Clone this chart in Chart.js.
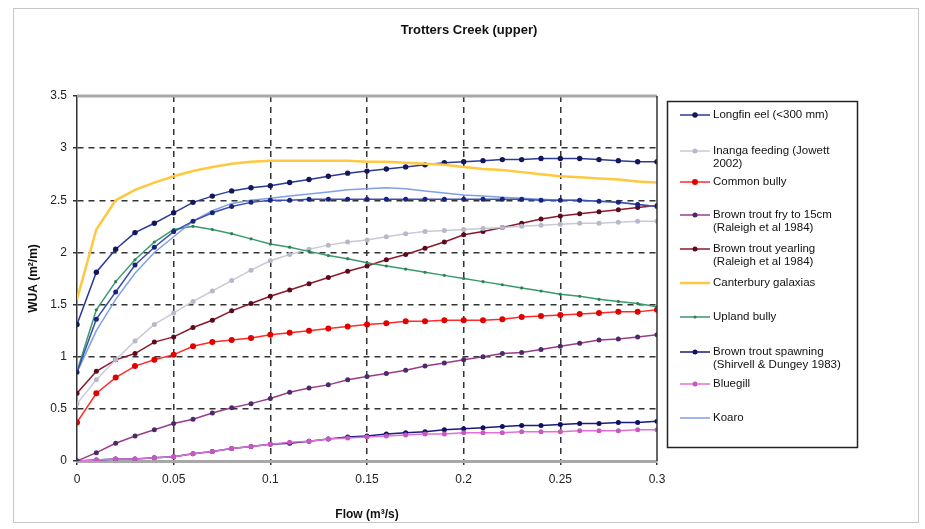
<!DOCTYPE html>
<html>
<head>
<meta charset="utf-8">
<script src="https://cdn.jsdelivr.net/npm/chart.js@4.4.0/dist/chart.umd.min.js"></script>
<style>
html, body { margin: 0; padding: 0; background: #fff; }
#wrap { width: 925px; height: 529px; position: relative; }
</style>
</head>
<body>
<div id="wrap"><canvas id="wua" width="925" height="529"></canvas></div>
<script>
// flow values (m3/s)
var flows = [0, 0.01, 0.02, 0.03, 0.04, 0.05, 0.06, 0.07, 0.08, 0.09, 0.1,
    0.11, 0.12, 0.13, 0.14, 0.15, 0.16, 0.17, 0.18, 0.19, 0.2,
    0.21, 0.22, 0.23, 0.24, 0.25, 0.26, 0.27, 0.28, 0.29, 0.3];

var xTickLabels = ['0', '0.05', '0.1', '0.15', '0.2', '0.25', '0.3'];
var yTickLabels = ['0', '0.5', '1', '1.5', '2', '2.5', '3', '3.5'];

// WUA per species
var longfinEel = [1.31, 1.81, 2.03, 2.19, 2.28, 2.38, 2.48, 2.54, 2.59, 2.62, 2.64,
    2.67, 2.70, 2.73, 2.76, 2.78, 2.80, 2.82, 2.84, 2.86, 2.87,
    2.88, 2.89, 2.89, 2.90, 2.90, 2.90, 2.89, 2.88, 2.87, 2.87];
var inangaFeeding = [0.55, 0.78, 0.97, 1.15, 1.31, 1.42, 1.53, 1.63, 1.73, 1.83, 1.92,
    1.98, 2.03, 2.07, 2.10, 2.12, 2.15, 2.18, 2.20, 2.21, 2.22,
    2.23, 2.24, 2.25, 2.26, 2.27, 2.28, 2.28, 2.29, 2.30, 2.30];
var commonBully = [0.37, 0.65, 0.80, 0.91, 0.97, 1.02, 1.10, 1.14, 1.16, 1.18, 1.21,
    1.23, 1.25, 1.27, 1.29, 1.31, 1.32, 1.34, 1.34, 1.35, 1.35,
    1.35, 1.36, 1.38, 1.39, 1.40, 1.41, 1.42, 1.43, 1.43, 1.45];
var troutFry = [0, 0.08, 0.17, 0.24, 0.30, 0.36, 0.40, 0.46, 0.51, 0.55, 0.60,
    0.66, 0.70, 0.73, 0.78, 0.81, 0.84, 0.87, 0.91, 0.94, 0.97,
    1.00, 1.03, 1.04, 1.07, 1.10, 1.13, 1.16, 1.17, 1.19, 1.21];
var troutYearling = [0.65, 0.86, 0.97, 1.03, 1.14, 1.19, 1.28, 1.35, 1.44, 1.51, 1.58,
    1.64, 1.70, 1.76, 1.82, 1.87, 1.93, 1.98, 2.04, 2.10, 2.17,
    2.20, 2.24, 2.28, 2.32, 2.35, 2.37, 2.39, 2.41, 2.43, 2.45];
var cantGalaxias = [1.55, 2.22, 2.50, 2.60, 2.67, 2.73, 2.78, 2.82, 2.85, 2.87, 2.88,
    2.88, 2.88, 2.88, 2.88, 2.87, 2.87, 2.86, 2.85, 2.84, 2.82,
    2.80, 2.79, 2.77, 2.75, 2.73, 2.72, 2.71, 2.70, 2.68, 2.67];
var uplandBully = [0.86, 1.45, 1.72, 1.93, 2.10, 2.22, 2.25, 2.22, 2.18, 2.13, 2.08,
    2.05, 2.01, 1.97, 1.94, 1.90, 1.87, 1.84, 1.81, 1.78, 1.75,
    1.72, 1.69, 1.66, 1.63, 1.60, 1.58, 1.55, 1.53, 1.51, 1.48];
var troutSpawning = [0, 0.01, 0.02, 0.02, 0.03, 0.04, 0.07, 0.09, 0.12, 0.14, 0.16,
    0.17, 0.19, 0.21, 0.23, 0.24, 0.26, 0.27, 0.28, 0.30, 0.31,
    0.32, 0.33, 0.34, 0.34, 0.35, 0.36, 0.36, 0.37, 0.37, 0.38];
var bluegill = [0, 0.01, 0.02, 0.02, 0.03, 0.04, 0.07, 0.09, 0.12, 0.14, 0.16,
    0.18, 0.19, 0.21, 0.22, 0.23, 0.24, 0.25, 0.26, 0.26, 0.27,
    0.27, 0.27, 0.28, 0.28, 0.28, 0.29, 0.29, 0.29, 0.30, 0.30];
var koaro = [0.85, 1.25, 1.55, 1.80, 2.00, 2.15, 2.30, 2.40, 2.47, 2.50, 2.52,
    2.54, 2.56, 2.58, 2.60, 2.61, 2.62, 2.61, 2.59, 2.57, 2.55,
    2.54, 2.53, 2.52, 2.51, 2.50, 2.50, 2.49, 2.48, 2.46, 2.44];
// unlabelled navy curve in the original (not in its legend)
var extraCurve = [0.85, 1.36, 1.62, 1.88, 2.05, 2.20, 2.30, 2.38, 2.44, 2.48, 2.50,
    2.50, 2.51, 2.51, 2.51, 2.51, 2.51, 2.51, 2.51, 2.51, 2.51,
    2.51, 2.51, 2.51, 2.50, 2.50, 2.50, 2.49, 2.48, 2.46, 2.44];

var FONT = '"Liberation Sans", Arial, sans-serif';

function pts(vals) {
    return vals.map(function(v, i) { return { x: flows[i], y: v }; });
}

function series(label, vals, line, marker, radius, width, legendY) {
    return {
        label: label,
        data: pts(vals),
        borderColor: line,
        backgroundColor: marker,
        pointBorderColor: marker,
        pointBackgroundColor: marker,
        pointRadius: radius,
        pointBorderWidth: 0,
        borderWidth: width,
        tension: 0,
        legendY: legendY
    };
}

var datasets = [
    series('Canterbury galaxias', cantGalaxias, '#ffc840', '#ffc840', 0, 2.5, 283),
    series('', extraCurve, '#3a4fb0', '#1a237a', 2.5, 1.5, null),
    series('Koaro', koaro, '#7f9fe6', '#7f9fe6', 0, 1.5, 418),
    series('Upland bully', uplandBully, '#3a9a6a', '#2f7f56', 1.6, 1.5, 317),
    series('Inanga feeding (Jowett\n2002)', inangaFeeding, '#c9c9d8', '#b8b8cc', 2.5, 1.5, 151),
    series('Brown trout yearling\n(Raleigh et al 1984)', troutYearling, '#8a1a2a', '#5a0a1a', 2.5, 1.5, 249),
    series('Common bully', commonBully, '#ff2a2a', '#e00000', 3, 1.5, 182),
    series('Brown trout fry to 15cm\n(Raleigh et al 1984)', troutFry, '#9a3c8a', '#4a2a6a', 2.5, 1.5, 215),
    series('Bluegill', bluegill, '#e070d8', '#c858c0', 2.5, 1.5, 384),
    series('Brown trout spawning\n(Shirvell & Dungey 1983)', troutSpawning, '#1a1a80', '#101060', 2.5, 1.5, 352),
    series('Longfin eel (<300 mm)', longfinEel, '#2a3a9a', '#15155a', 2.7, 1.5, 115)
];

var legendOrder = [10, 4, 6, 7, 5, 0, 3, 9, 8, 2];

var frame = {
    id: 'frame',
    beforeDraw: function(chart) {
        var ctx = chart.ctx;
        ctx.save();
        ctx.fillStyle = '#fff';
        ctx.fillRect(0, 0, chart.width, chart.height);
        ctx.strokeStyle = '#c8c8c8';
        ctx.lineWidth = 1;
        ctx.strokeRect(13.5, 8.5, 905, 514);
        ctx.fillStyle = '#111';
        ctx.font = 'bold 13px ' + FONT;
        ctx.textAlign = 'center';
        ctx.textBaseline = 'middle';
        ctx.fillText('Trotters Creek (upper)', 469, 30);
        ctx.restore();
    },
    afterDatasetsDraw: function(chart) {
        var a = chart.chartArea, ctx = chart.ctx;
        ctx.save();
        ctx.strokeStyle = '#a8a8a8';
        ctx.lineWidth = 3;
        ctx.beginPath();
        ctx.moveTo(a.left, a.top);
        ctx.lineTo(a.right, a.top);
        ctx.stroke();
        ctx.strokeStyle = '#333';
        ctx.lineWidth = 1.5;
        ctx.beginPath();
        ctx.moveTo(a.right, a.top);
        ctx.lineTo(a.right, a.bottom);
        ctx.stroke();
        ctx.restore();
    },
    afterDraw: function(chart) {
        var ctx = chart.ctx;
        ctx.save();
        ctx.strokeStyle = '#222';
        ctx.lineWidth = 1.5;
        ctx.strokeRect(667.5, 101.5, 190, 346);
        ctx.font = '11.5px ' + FONT;
        ctx.textBaseline = 'middle';
        legendOrder.forEach(function(idx) {
            var ds = chart.data.datasets[idx];
            var y = ds.legendY;
            ctx.strokeStyle = ds.borderColor;
            ctx.lineWidth = ds.borderWidth;
            ctx.beginPath();
            ctx.moveTo(680, y);
            ctx.lineTo(710, y);
            ctx.stroke();
            if (ds.pointRadius > 0) {
                ctx.fillStyle = ds.pointBackgroundColor;
                ctx.beginPath();
                ctx.arc(695, y, ds.pointRadius, 0, Math.PI * 2);
                ctx.fill();
            }
            ctx.fillStyle = '#111';
            ds.label.split('\n').forEach(function(t, k) {
                ctx.fillText(t, 713, y + k * 13);
            });
        });
        ctx.restore();
    }
};

var gridColor = function(c) {
    return (c.index === 0 || c.index === c.chart.scales[c.scale.id].ticks.length - 1) ? 'rgba(0,0,0,0)' : '#333';
};

var ctx = document.getElementById('wua');
var chart = new Chart(ctx, {
    type: 'line',
    data: { datasets: datasets },
    options: {
        responsive: false,
        animation: false,
        devicePixelRatio: 1,
        layout: { padding: { left: 0, right: 268, top: 96, bottom: 0 } },
        plugins: {
            legend: { display: false },
            tooltip: { enabled: false },
            title: { display: false }
        },
        scales: {
            x: {
                type: 'linear',
                min: 0,
                max: 0.3,
                afterFit: function(s) { s.height = 68; },
                afterBuildTicks: function(s) {
                    s.ticks = xTickLabels.map(function(t) { return { value: parseFloat(t) }; });
                },
                ticks: {
                    color: '#222',
                    padding: 7,
                    maxRotation: 0,
                    font: { family: FONT, size: 12 },
                    callback: function(v, i) { return xTickLabels[i]; }
                },
                grid: { color: gridColor, lineWidth: 1.5, tickLength: 4, tickColor: '#333' },
                border: { color: '#a8a8a8', width: 3, dash: [6, 5] },
                title: {
                    display: true,
                    text: 'Flow (m\u00b3/s)',
                    color: '#111',
                    font: { family: FONT, size: 12, weight: 'bold' },
                    padding: { top: 0, bottom: 7 }
                }
            },
            y: {
                min: 0,
                max: 3.5,
                afterFit: function(s) { s.width = 77; },
                afterBuildTicks: function(s) {
                    s.ticks = yTickLabels.map(function(t) { return { value: parseFloat(t) }; });
                },
                ticks: {
                    color: '#222',
                    padding: 6,
                    font: { family: FONT, size: 12 },
                    callback: function(v, i) { return yTickLabels[i]; }
                },
                grid: { color: gridColor, lineWidth: 1.5, tickLength: 4, tickColor: '#333' },
                border: { color: '#333', width: 1.5, dash: [6, 5] },
                title: {
                    display: true,
                    text: 'WUA (m\u00b2/m)',
                    color: '#111',
                    font: { family: FONT, size: 12, weight: 'bold' },
                    padding: { top: 26, bottom: 0 }
                }
            }
        }
    },
    plugins: [frame]
});
</script>
</body>
</html>
